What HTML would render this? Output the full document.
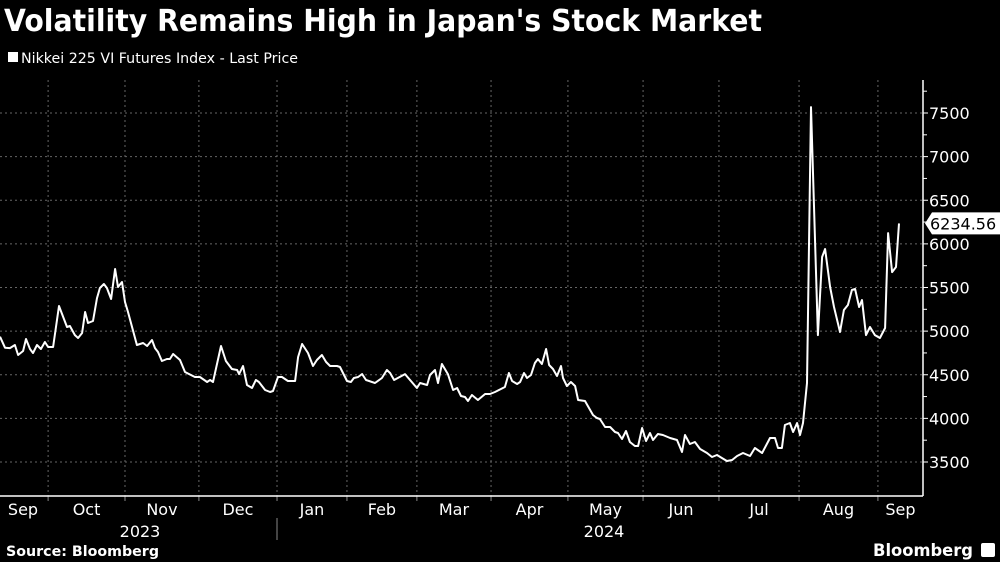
<!DOCTYPE html>
<html><head><meta charset="utf-8"><style>
html,body{margin:0;padding:0;background:#000;}
svg{display:block;font-family:"DejaVu Sans","Liberation Sans",sans-serif;}
</style></head><body>
<svg id="chart" width="1000" height="562" viewBox="0 0 1000 562" xmlns="http://www.w3.org/2000/svg">
<rect x="0" y="0" width="1000" height="562" fill="#000"/>
<text x="4" y="31" fill="#fff" font-size="30" font-weight="bold" textLength="758" lengthAdjust="spacingAndGlyphs">Volatility Remains High in Japan's Stock Market</text>
<g>
<rect x="8" y="52" width="10" height="10" fill="#fff"/>
<text x="21" y="63" fill="#fff" font-size="14" textLength="277" lengthAdjust="spacingAndGlyphs">Nikkei 225 VI Futures Index - Last Price</text>
</g>
<g id="grid"></g>
<g id="axes"></g>
<path id="line" fill="none" stroke="#fff" stroke-width="2" stroke-linejoin="round"/>
<g id="lastlabel"></g>
<text x="6" y="556" fill="#fff" font-size="14" font-weight="bold" textLength="153" lengthAdjust="spacingAndGlyphs">Source: Bloomberg</text>
<text x="873" y="556" fill="#fff" font-size="17" font-weight="bold" textLength="100" lengthAdjust="spacingAndGlyphs">Bloomberg</text>
<rect x="981" y="543" width="14" height="14" rx="2" fill="#fff"/>
</svg>
<script>
// time in chart units (trading-time days from start)
const days = [0,2,4,6,7.3,9.3,10.5,12.1,13.3,14.9,16.5,18.1,19.4,21.4,23.8,27,28.2,30.2,31.5,33.1,34.3,35.5,37.5,39.1,40.3,41.9,43.1,44.8,46.4,47.6,49.2,50.4,51.6,55.2,57.7,59.3,61.3,62.5,63.7,65.3,67.3,68.5,69.8,72.6,74.6,78.6,80.6,83.5,84.7,85.9,89.1,91.1,93.5,95.6,96.4,98,99.6,101.6,103.2,104.4,106.9,108.9,110.1,112.1,113.7,116.1,119,120.2,121.8,124.2,126.2,127.8,129.8,131.5,133.1,135.9,137.1,139.9,141.5,142.7,144.4,146,147.6,151.2,154,156,157.3,158.9,163.3,168.1,169.4,172.2,173.4,175.4,176.6,178.2,180.6,182.7,184.3,185.9,187.5,188.7,190.3,192.7,195.6,197.6,199.6,203.6,205.2,206.5,208.5,209.7,211.3,212.5,214.1,215.7,216.9,218.5,220.2,221.4,223,224.6,226.2,227,228.6,230.2,231.9,233.1,235.9,239.1,240.7,241.9,244,246,248,249.2,250.8,252.4,254,256,257.3,258.9,260.5,262.1,263.3,265.3,267.3,270.2,273,275,276.2,278.2,280.2,282.3,285.1,287.1,289.1,291.1,293.1,295.2,297.2,299.6,302.4,304.4,307.3,310.5,312.5,313.7,315.3,316.5,318.5,319.8,321.4,322.6,323.8,325.4,327,329.8,331.5,332.7,334.7,336.3,338.7,340.3,341.9,343.5,344.8,346.4,347.6,349.2,350.8,352.8,354.8,356.9,358.1,359.7,361.3,362.5];
const values = [4936,4810,4806,4841,4726,4772,4910,4795,4749,4841,4795,4875,4818,4818,5288,5047,5059,4955,4921,4978,5219,5093,5116,5379,5494,5540,5494,5368,5712,5506,5563,5334,5219,4841,4864,4829,4898,4806,4761,4658,4680,4680,4738,4669,4531,4474,4474,4417,4440,4417,4829,4658,4566,4554,4508,4600,4382,4348,4440,4417,4325,4302,4314,4474,4474,4428,4428,4703,4852,4749,4600,4669,4726,4646,4600,4600,4589,4428,4417,4463,4474,4508,4440,4405,4463,4554,4520,4440,4508,4348,4405,4382,4497,4554,4405,4623,4508,4325,4348,4256,4245,4199,4268,4211,4279,4279,4302,4360,4520,4428,4394,4417,4520,4463,4497,4635,4680,4623,4795,4612,4566,4486,4600,4463,4371,4417,4371,4211,4199,4039,4004,3993,3901,3901,3844,3832,3764,3855,3729,3683,3683,3890,3741,3832,3752,3821,3809,3775,3752,3615,3809,3706,3729,3649,3603,3557,3580,3546,3511,3523,3569,3603,3569,3660,3603,3775,3775,3660,3660,3924,3947,3844,3947,3809,3947,4405,7568,4955,5849,5941,5506,5276,4990,5242,5299,5471,5483,5276,5357,4955,5047,4955,4921,5036,6124,5677,5735,6234.56];
const monthStarts = [19.4,50.4,80.2,111.7,139.9,168.1,198.0,229.0,259.3,289.9,322.2,354.0];
const monthLabels = ["Sep","Oct","Nov","Dec","Jan","Feb","Mar","Apr","May","Jun","Jul","Aug","Sep"];
const yTicks = [3500,4000,4500,5000,5500,6000,6500,7000,7500];
const lastLabel = "6234.56";

const NS="http://www.w3.org/2000/svg";
const X0=0, DAY=2.48, AXX=923, TOP=80, BOT=496;
function xs(d){return X0+d*DAY;}
function ys(v){return 462-(v-3500)*0.08725;}
function mk(tag,attrs,parent){const e=document.createElementNS(NS,tag);for(const k in attrs)e.setAttribute(k,attrs[k]);parent.appendChild(e);return e;}
const grid=document.getElementById('grid'), axes=document.getElementById('axes');
yTicks.forEach(v=>{
  const g=mk('line',{x1:0,x2:AXX,y1:ys(v),y2:ys(v),stroke:'#666','stroke-width':1,'stroke-dasharray':'2,3'},grid);
  
  
  const t=mk('line',{x1:AXX,x2:AXX+5,y1:ys(v),y2:ys(v),stroke:'#fff','stroke-width':1},axes);
  
  
  const m=mk('line',{x1:AXX,x2:AXX+4,y1:ys(v+250),y2:ys(v+250),stroke:'#fff','stroke-width':1},axes);
  
  
  const l=mk('text',{x:AXX+6,y:ys(v)+6,fill:'#fff','font-size':16},axes);
  l.textContent=v;
  
  
});
const bounds=[-8].concat(monthStarts).concat([AXX/DAY]);
monthStarts.forEach(d=>{
  const g=mk('line',{x1:xs(d),x2:xs(d),y1:TOP,y2:BOT,stroke:'#666','stroke-width':1,'stroke-dasharray':'2,3'},grid);
  
  
  const t=mk('line',{x1:xs(d),x2:xs(d),y1:BOT,y2:BOT+5,stroke:'#888','stroke-width':1},axes);
  
  
});
monthLabels.forEach((m,i)=>{
  let cx=(xs(Math.max(bounds[i],0))+xs(bounds[i+1]))/2;
  if(i===0) cx=23;
  const l=mk('text',{x:cx,y:515,fill:'#fff','font-size':16,'text-anchor':'middle'},axes);
  l.textContent=m;
  
  
});
[["2023",140],["2024",604]].forEach(([y,x])=>{
  const l=mk('text',{x:x,y:537,fill:'#fff','font-size':16,'text-anchor':'middle'},axes);
  l.textContent=y;
  
  
});
const sep=mk('line',{x1:277,x2:277,y1:518,y2:540,stroke:'#888','stroke-width':1},axes);


const ax=mk('line',{x1:AXX,x2:AXX,y1:TOP,y2:BOT,stroke:'#fff','stroke-width':1.5},axes);


const bx=mk('line',{x1:0,x2:AXX,y1:BOT,y2:BOT,stroke:'#fff','stroke-width':1.5},axes);


let d='';
days.forEach((t,i)=>{d+=(i?'L':'M')+xs(t).toFixed(1)+','+ys(values[i]).toFixed(1);});
document.getElementById('line').setAttribute('d',d);
const lv=ys(values[values.length-1]);
const ll=document.getElementById('lastlabel');
const p=mk('path',{d:`M${AXX+2},${lv} L${AXX+9},${lv-11} L1000,${lv-11} L1000,${lv+11} L${AXX+9},${lv+11} Z`,fill:'#fff'},ll);


const lt=mk('text',{x:AXX+7,y:lv+6,fill:'#000','font-size':16},ll);
lt.textContent=lastLabel;


</script>
</body></html>
